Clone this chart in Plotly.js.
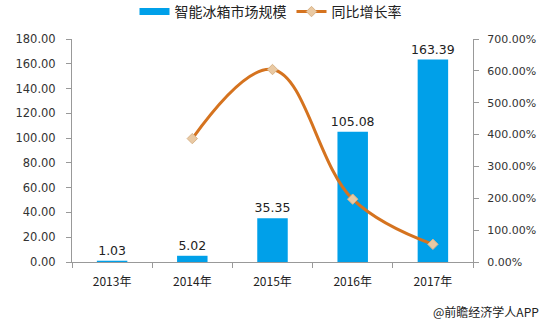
<!DOCTYPE html>
<html><head><meta charset="utf-8">
<script src="https://cdn.plot.ly/plotly-3.0.1.min.js"></script>
<style>html,body{margin:0;padding:0;background:#fff}#c{width:541px;height:323px}</style>
</head><body><div id="c"></div>
<script>
const years = ["2013年","2014年","2015年","2016年","2017年"];
const marketSize = [1.03, 5.02, 35.35, 105.08, 163.39];
const growthYears = ["2014年","2015年","2016年","2017年"];
const growthRate = [387.38, 604.18, 197.26, 55.49];
const leftTicks = [0,20,40,60,80,100,120,140,160,180];
const rightTicks = [0,100,200,300,400,500,600,700];

const fontNum = "DejaVu Sans, Verdana, sans-serif";
const fontCJK = "Noto Sans CJK SC, sans-serif";
const barColor = "#00A0E9";

const traces = [
  {type:"scatter", mode:"lines", name:"智能冰箱市场规模", x:[years[0]], y:[null],
   line:{color:barColor, width:7}, hoverinfo:"skip"},
  {type:"bar", name:"智能冰箱市场规模", showlegend:false, x:years, y:marketSize, marker:{color:barColor},
   width:0.38, text:marketSize.map(v=>v.toFixed(2)), textposition:"outside", constraintext:"none",
   textfont:{family:fontNum,size:12.5,color:"#222"}, cliponaxis:false},
  {type:"scatter", mode:"lines+markers", name:"同比增长率", x:growthYears, y:growthRate, yaxis:"y2",
   line:{color:"#D5731F", width:3, shape:"spline", smoothing:1.1},
   marker:{symbol:"diamond", size:8, color:"#E9C9A3", line:{color:"#D8B48A", width:1}}}
];
const layout = {
  width:541, height:323,
  margin:{l:72, r:68, t:39, b:61, autoexpand:false},
  paper_bgcolor:"#fff", plot_bgcolor:"#fff",
  showlegend:true,
  legend:{orientation:"h", x:0.5, xref:"container", xanchor:"center", y:0.963, yref:"container", yanchor:"middle",
          font:{family:fontCJK,size:14,color:"#222"}, tracegroupgap:0, bgcolor:"rgba(0,0,0,0)"},
  font:{family:fontNum, size:11, color:"#333"},
  xaxis:{type:"category", categoryarray:years, showline:true, linecolor:"#999", linewidth:1,
         ticks:"outside", tickcolor:"#999", ticklen:5, tickson:"boundaries", ticklabelstandoff:9,
         showgrid:false, zeroline:false,
         tickfont:{family:fontCJK,size:12,color:"#222"}},
  yaxis:{range:[0,180], tickvals:leftTicks, ticktext:leftTicks.map(v=>v.toFixed(2)),
         showline:true, linecolor:"#999", ticks:"outside", tickcolor:"#999", ticklen:5, ticklabelstandoff:8,
         showgrid:false, zeroline:false, tickfont:{family:fontNum,size:11.5,color:"#333"}},
  yaxis2:{range:[0,700], overlaying:"y", side:"right", tickvals:rightTicks,
          ticktext:rightTicks.map(v=>v.toFixed(2)+"%"),
          showline:true, linecolor:"#999", ticks:"outside", tickcolor:"#999", ticklen:5, ticklabelstandoff:6,
          showgrid:false, zeroline:false, tickfont:{family:fontNum,size:11,color:"#333"}},
  annotations:[{text:"@前瞻经济学人APP", xref:"paper", yref:"paper", x:1.17, y:-0.22,
                xanchor:"right", yanchor:"middle", showarrow:false,
                font:{family:fontCJK,size:12,color:"#222"}}]
};
Plotly.newPlot("c", traces, layout, {displayModeBar:false, staticPlot:true});
</script></body></html>
